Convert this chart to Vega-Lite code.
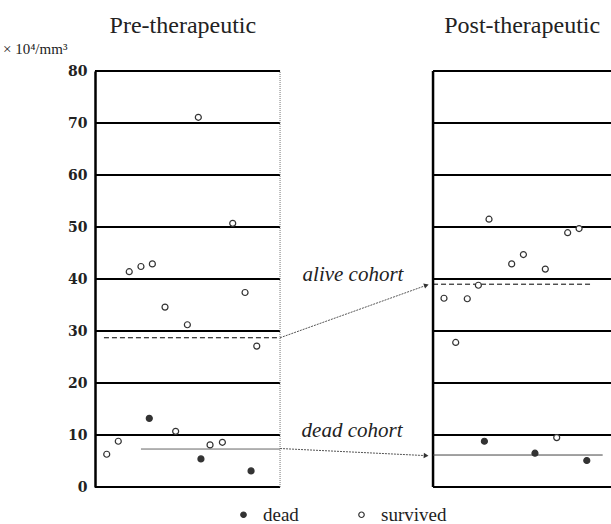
{
  "$schema": "https://vega.github.io/schema/vega-lite/v6.json",
  "autosize": {"type": "none"},
  "width": 516,
  "height": 416,
  "padding": {"left": 95, "top": 71, "right": 0, "bottom": 37},
  "background": "white",
  "config": {"view": {"stroke": null}},
  "datasets": {
    "one": [{}],
    "levels": [{"level": 0}, {"level": 10}, {"level": 20}, {"level": 30}, {"level": 40}, {"level": 50}, {"level": 60}, {"level": 70}, {"level": 80}],
    "counts": [
      {"phase": "Pre", "status": "survived", "pos": 6.70, "value": 71.1},
      {"phase": "Pre", "status": "survived", "pos": 8.93, "value": 50.7},
      {"phase": "Pre", "status": "survived", "pos": 2.22, "value": 41.4},
      {"phase": "Pre", "status": "survived", "pos": 2.98, "value": 42.4},
      {"phase": "Pre", "status": "survived", "pos": 3.72, "value": 42.9},
      {"phase": "Pre", "status": "survived", "pos": 9.73, "value": 37.4},
      {"phase": "Pre", "status": "survived", "pos": 4.54, "value": 34.6},
      {"phase": "Pre", "status": "survived", "pos": 5.99, "value": 31.2},
      {"phase": "Pre", "status": "survived", "pos": 10.49, "value": 27.1},
      {"phase": "Pre", "status": "survived", "pos": 5.23, "value": 10.7},
      {"phase": "Pre", "status": "survived", "pos": 1.51, "value": 8.8},
      {"phase": "Pre", "status": "survived", "pos": 0.76, "value": 6.3},
      {"phase": "Pre", "status": "survived", "pos": 7.46, "value": 8.1},
      {"phase": "Pre", "status": "survived", "pos": 8.26, "value": 8.6},
      {"phase": "Pre", "status": "dead", "pos": 3.52, "value": 13.2},
      {"phase": "Pre", "status": "dead", "pos": 6.87, "value": 5.4},
      {"phase": "Pre", "status": "dead", "pos": 10.12, "value": 3.1},
      {"phase": "Post", "status": "survived", "pos": 25.55, "value": 51.5},
      {"phase": "Post", "status": "survived", "pos": 30.65, "value": 48.9},
      {"phase": "Post", "status": "survived", "pos": 31.39, "value": 49.7},
      {"phase": "Post", "status": "survived", "pos": 27.78, "value": 44.7},
      {"phase": "Post", "status": "survived", "pos": 27.02, "value": 42.9},
      {"phase": "Post", "status": "survived", "pos": 29.2, "value": 41.9},
      {"phase": "Post", "status": "survived", "pos": 24.86, "value": 38.8},
      {"phase": "Post", "status": "survived", "pos": 22.63, "value": 36.3},
      {"phase": "Post", "status": "survived", "pos": 24.14, "value": 36.2},
      {"phase": "Post", "status": "survived", "pos": 23.39, "value": 27.8},
      {"phase": "Post", "status": "survived", "pos": 29.94, "value": 9.5},
      {"phase": "Post", "status": "dead", "pos": 25.25, "value": 8.8},
      {"phase": "Post", "status": "dead", "pos": 28.53, "value": 6.5},
      {"phase": "Post", "status": "dead", "pos": 31.89, "value": 5.1}
    ]
  },
  "layer": [
    {
      "data": {"name": "levels"},
      "mark": {"type": "rule", "color": "black", "strokeWidth": 2.2},
      "encoding": {
        "y": {"field": "level", "type": "quantitative", "scale": {"domain": [0, 80], "nice": false}},
        "x": {"datum": 0, "type": "quantitative", "scale": {"domain": [0, 33.46], "nice": false, "zero": false}, "axis": null},
        "x2": {"datum": 12}
      }
    },
    {
      "data": {"name": "levels"},
      "mark": {"type": "rule", "color": "black", "strokeWidth": 2.2},
      "encoding": {
        "y": {"field": "level", "type": "quantitative"},
        "x": {"datum": 21.92, "type": "quantitative"},
        "x2": {"datum": 34}
      }
    },
    {
      "data": {"name": "one"},
      "mark": {"type": "rule", "color": "#777", "strokeWidth": 1, "strokeDash": [1, 1]},
      "encoding": {"x": {"datum": 12, "type": "quantitative"}, "y": {"datum": 0, "type": "quantitative"}, "y2": {"datum": 80}}
    },
    {
      "data": {"name": "one"},
      "mark": {"type": "rule", "color": "black", "strokeWidth": 2.5},
      "encoding": {"x": {"datum": 21.92, "type": "quantitative"}, "y": {"datum": 0, "type": "quantitative"}, "y2": {"datum": 80}}
    },
    {
      "data": {"name": "one"},
      "mark": {"type": "rule", "color": "black", "strokeWidth": 1, "strokeDash": [5, 3]},
      "encoding": {"x": {"datum": 0.58, "type": "quantitative"}, "x2": {"datum": 12}, "y": {"datum": 28.7, "type": "quantitative"}}
    },
    {
      "data": {"name": "one"},
      "mark": {"type": "rule", "color": "#666", "strokeWidth": 1},
      "encoding": {"x": {"datum": 2.98, "type": "quantitative"}, "x2": {"datum": 12}, "y": {"datum": 7.3, "type": "quantitative"}}
    },
    {
      "data": {"name": "one"},
      "mark": {"type": "rule", "color": "black", "strokeWidth": 1, "strokeDash": [5, 3]},
      "encoding": {"x": {"datum": 21.92, "type": "quantitative"}, "x2": {"datum": 32.21}, "y": {"datum": 39.0, "type": "quantitative"}}
    },
    {
      "data": {"name": "one"},
      "mark": {"type": "rule", "color": "#444", "strokeWidth": 1},
      "encoding": {"x": {"datum": 21.92, "type": "quantitative"}, "x2": {"datum": 32.92}, "y": {"datum": 6.15, "type": "quantitative"}}
    },
    {
      "data": {"name": "one"},
      "mark": {"type": "rule", "color": "#555", "strokeWidth": 1, "strokeDash": [2, 1]},
      "encoding": {"x": {"datum": 12, "type": "quantitative"}, "y": {"datum": 28.7, "type": "quantitative"}, "x2": {"datum": 21.5}, "y2": {"datum": 38.8}}
    },
    {
      "data": {"name": "one"},
      "mark": {"type": "rule", "color": "#555", "strokeWidth": 1, "strokeDash": [2, 1]},
      "encoding": {"x": {"datum": 12, "type": "quantitative"}, "y": {"datum": 7.4, "type": "quantitative"}, "x2": {"datum": 21.5}, "y2": {"datum": 6.03}}
    },
    {
      "data": {"name": "one"},
      "mark": {"type": "point", "shape": "triangle-right", "filled": true, "color": "#333", "size": 30, "angle": 341, "opacity": 1},
      "encoding": {"x": {"datum": 21.49, "type": "quantitative"}, "y": {"datum": 38.8, "type": "quantitative"}}
    },
    {
      "data": {"name": "one"},
      "mark": {"type": "point", "shape": "triangle-right", "filled": true, "color": "#333", "size": 30, "angle": 3, "opacity": 1},
      "encoding": {"x": {"datum": 21.47, "type": "quantitative"}, "y": {"datum": 6.03, "type": "quantitative"}}
    },
    {
      "data": {"name": "counts"},
      "mark": {"type": "point", "shape": "circle", "filled": true, "size": 36, "stroke": "#333", "strokeWidth": 1.2, "opacity": 1},
      "encoding": {
        "x": {"field": "pos", "type": "quantitative"},
        "y": {
          "field": "value", "type": "quantitative",
          "axis": {
            "values": [0, 10, 20, 30, 40, 50, 60, 70, 80],
            "title": null, "grid": false, "ticks": false, "tickSize": 0,
            "domain": true, "domainColor": "black", "domainWidth": 2.5,
            "labelFont": "DejaVu Serif", "labelFontWeight": "bold", "labelFontSize": 14,
            "labelColor": "#222", "labelPadding": 8
          }
        },
        "fill": {
          "field": "status", "type": "nominal",
          "scale": {"domain": ["dead", "survived"], "range": ["#333333", "#ffffff"]},
          "legend": {
            "orient": "none", "direction": "horizontal", "legendX": 139, "legendY": 434,
            "title": null, "symbolType": "circle", "symbolSize": 30,
            "symbolStrokeColor": "#333", "symbolStrokeWidth": 1.2,
            "labelFont": "Liberation Serif", "labelFontSize": 19, "labelColor": "#222",
            "labelOffset": 10, "columnPadding": 53
          }
        }
      }
    },
    {
      "data": {"name": "one"},
      "mark": {"type": "text", "text": "Pre-therapeutic", "font": "Liberation Serif", "fontSize": 24, "color": "#222", "align": "center", "baseline": "alphabetic"},
      "encoding": {"x": {"datum": 5.7, "type": "quantitative"}, "y": {"datum": 87.4, "type": "quantitative"}}
    },
    {
      "data": {"name": "one"},
      "mark": {"type": "text", "text": "Post-therapeutic", "font": "Liberation Serif", "fontSize": 24, "color": "#222", "align": "center", "baseline": "alphabetic"},
      "encoding": {"x": {"datum": 27.7, "type": "quantitative"}, "y": {"datum": 87.4, "type": "quantitative"}}
    },
    {
      "data": {"name": "one"},
      "mark": {"type": "text", "text": "× 10⁴/mm³", "font": "Liberation Serif", "fontSize": 15, "color": "#222", "align": "left", "baseline": "alphabetic"},
      "encoding": {"x": {"datum": -5.97, "type": "quantitative"}, "y": {"datum": 83.3, "type": "quantitative"}}
    },
    {
      "data": {"name": "one"},
      "mark": {"type": "text", "text": "alive cohort", "font": "Liberation Serif", "fontStyle": "italic", "fontSize": 21, "color": "#222", "align": "center", "baseline": "alphabetic"},
      "encoding": {"x": {"datum": 16.73, "type": "quantitative"}, "y": {"datum": 39.67, "type": "quantitative"}}
    },
    {
      "data": {"name": "one"},
      "mark": {"type": "text", "text": "dead cohort", "font": "Liberation Serif", "fontStyle": "italic", "fontSize": 21, "color": "#222", "align": "center", "baseline": "alphabetic"},
      "encoding": {"x": {"datum": 16.67, "type": "quantitative"}, "y": {"datum": 9.67, "type": "quantitative"}}
    }
  ]
}
